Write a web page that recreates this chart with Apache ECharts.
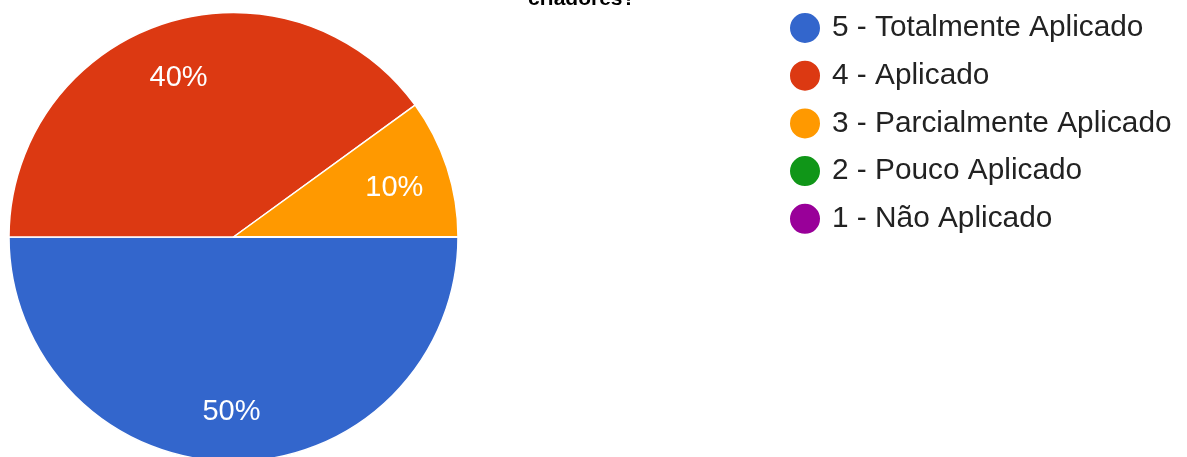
<!DOCTYPE html>
<html>
<head>
<meta charset="utf-8">
<title>Pie</title>
<script src="https://cdn.jsdelivr.net/npm/echarts@6/dist/echarts.min.js"></script>
<style>
  html, body { margin: 0; padding: 0; background: #fff; }
  #chart { width: 1187px; height: 457px; }
</style>
</head>
<body>
<div id="chart"></div>
<script>
// Answer categories, shares (%) and slice colours
const categories = [
  '5 - Totalmente Aplicado',
  '4 - Aplicado',
  '3 - Parcialmente Aplicado',
  '2 - Pouco Aplicado',
  '1 - Não Aplicado'
];
const shares = [50, 40, 10, 0, 0];
const colors = ['#3366cc', '#dc3912', '#ff9900', '#109618', '#990099'];
const titleText = 'criadores?';

const FONT = '"Liberation Sans", Arial, sans-serif';
const cx = 233.5, cy = 237, R = 224.5;

const pieData = categories.map((name, i) => ({ name, value: shares[i] }));

const chart = echarts.init(document.getElementById('chart'), null, { renderer: 'canvas' });
chart.setOption({
  animation: false,
  color: colors,
  title: {
    text: titleText,
    left: 528,
    top: -11,
    padding: 0,
    textStyle: { fontFamily: FONT, fontSize: 21, fontWeight: 'bold', color: '#000' }
  },
  legend: {
    orient: 'vertical',
    left: 788,
    top: 11,
    padding: 0,
    icon: 'circle',
    itemWidth: 44,
    itemHeight: 32,
    itemGap: 13.7,
    selectedMode: false,
    data: categories,
    textStyle: { fontFamily: FONT, fontSize: 29.8, color: '#222' }
  },
  series: [
    {
      type: 'pie',
      center: [cx, cy],
      radius: [0, R],
      startAngle: 0,
      clockwise: true,
      silent: true,
      label: { show: false },
      labelLine: { show: false },
      itemStyle: { borderColor: '#fff', borderWidth: 1.5 },
      data: pieData
    },
    {
      // transparent ring that only carries the percentage labels
      type: 'pie',
      center: [cx, cy],
      radius: [112, R],
      startAngle: 0,
      clockwise: true,
      silent: true,
      minShowLabelAngle: 1,
      itemStyle: { color: 'rgba(0,0,0,0)', borderWidth: 0 },
      label: {
        show: true,
        position: 'inside',
        offset: [-2, 4],
        formatter: p => p.value + '%',
        fontFamily: FONT,
        fontSize: 29,
        color: '#fff'
      },
      labelLine: { show: false },
      data: pieData
    }
  ]
});
</script>
</body>
</html>
